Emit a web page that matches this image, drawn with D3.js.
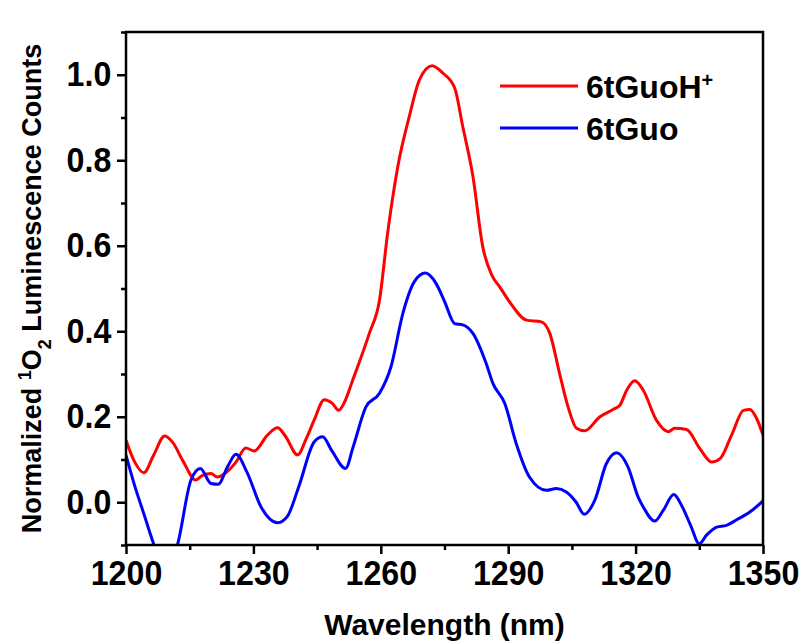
<!DOCTYPE html>
<html>
<head>
<meta charset="utf-8">
<script src="https://cdn.jsdelivr.net/npm/d3@7"></script>
<style>
  body { margin: 0; background: #fff; }
  text { font-family: "Liberation Sans", Arial, sans-serif; font-weight: bold; fill: #000; }
</style>
</head>
<body>
<div id="chart"></div>
<script>
// wavelengths (nm) and normalized counts
const redNm = [1200, 1202, 1204.2, 1206.5, 1209.1, 1211, 1213.5, 1216.4, 1218, 1220, 1221.5, 1223.5, 1225.9, 1228.2, 1230.2, 1233.3, 1235.7, 1237.5, 1240.4, 1242.5, 1244.3, 1246.7, 1248.5, 1250.1, 1251.5, 1253.4, 1257.3, 1259.7, 1261.6, 1264, 1266.7, 1269.1, 1272.1, 1274.6, 1277.4, 1279.3, 1281.7, 1284, 1286.2, 1288, 1290.3, 1294.3, 1297.8, 1299.8, 1302.1, 1304.1, 1306.1, 1308, 1311.6, 1314.7, 1316.3, 1317.9, 1319.8, 1321.8, 1324.9, 1327.7, 1329.2, 1332, 1335.1, 1337.9, 1339.9, 1342.6, 1345.4, 1346.9, 1348.5, 1350];
const redVal = [0.145, 0.095, 0.069, 0.11, 0.155, 0.14, 0.095, 0.052, 0.063, 0.067, 0.059, 0.069, 0.094, 0.127, 0.12, 0.157, 0.174, 0.155, 0.111, 0.15, 0.192, 0.24, 0.232, 0.215, 0.235, 0.286, 0.395, 0.473, 0.629, 0.785, 0.902, 0.988, 1.021, 1.004, 0.969, 0.879, 0.762, 0.598, 0.53, 0.504, 0.469, 0.426, 0.422, 0.395, 0.301, 0.223, 0.173, 0.167, 0.2, 0.217, 0.227, 0.262, 0.284, 0.262, 0.192, 0.165, 0.173, 0.17, 0.126, 0.094, 0.102, 0.157, 0.215, 0.217, 0.196, 0.157];

const blueNm = [1200, 1202, 1204.3, 1206.6, 1209.3, 1212.1, 1215.3, 1217.5, 1220, 1221.7, 1224, 1225.9, 1228.5, 1231.8, 1235.7, 1238, 1240.8, 1244.3, 1246.3, 1248.5, 1251.7, 1253.5, 1256.5, 1259.7, 1262.4, 1265.2, 1267.9, 1270.5, 1273, 1275, 1277.4, 1279.3, 1281.7, 1284.8, 1286.4, 1289.2, 1291.9, 1295, 1299, 1301.3, 1303.7, 1306, 1307.9, 1310.4, 1313.1, 1315.5, 1318.2, 1320.6, 1321.8, 1324.5, 1326.5, 1329, 1330.8, 1333, 1335, 1336.7, 1339.1, 1341.4, 1343.8, 1346.9, 1350];
const blueVal = [0.11, 0.04, -0.03, -0.1, -0.16, -0.1, 0.052, 0.079, 0.044, 0.042, 0.085, 0.112, 0.07, -0.011, -0.048, -0.033, 0.04, 0.141, 0.153, 0.12, 0.079, 0.13, 0.223, 0.255, 0.317, 0.442, 0.516, 0.536, 0.512, 0.47, 0.418, 0.415, 0.395, 0.325, 0.278, 0.231, 0.137, 0.059, 0.028, 0.032, 0.024, 0.0, -0.028, 0.005, 0.09, 0.116, 0.083, 0.012, -0.011, -0.044, -0.019, 0.018, -0.007, -0.055, -0.097, -0.077, -0.058, -0.054, -0.041, -0.023, 0.003];

const seriesNames = ["6tGuoH", "6tGuo"];
const seriesColors = ["#ff0000", "#0000ff"];
const xTicks = [1200, 1230, 1260, 1290, 1320, 1350];
const xMinor = [1215, 1245, 1275, 1305, 1335];
const yTicks = [0.0, 0.2, 0.4, 0.6, 0.8, 1.0];
const yMinor = [-0.1, 0.1, 0.3, 0.5, 0.7, 0.9, 1.1];

const width = 805, height = 644;
const margin = { top: 32, right: 42, bottom: 99, left: 126 };

const svg = d3.select('#chart').append('svg')
  .attr('width', width)
  .attr('height', height);

const x = d3.scaleLinear().domain([1200, 1350]).range([margin.left, width - margin.right]);
const y = d3.scaleLinear().domain([-0.1, 1.1]).range([height - margin.bottom, margin.top]);

svg.append('clipPath').attr('id', 'plot-clip')
  .append('rect')
  .attr('x', x(1200)).attr('y', y(1.1))
  .attr('width', x(1350) - x(1200)).attr('height', y(-0.1) - y(1.1));

const line = d3.line()
  .x(d => x(d[0]))
  .y(d => y(d[1]))
  .curve(d3.curveMonotoneX);

const series = [
  d3.zip(redNm, redVal),
  d3.zip(blueNm, blueVal)
];

svg.append('g').attr('clip-path', 'url(#plot-clip)')
  .selectAll('path')
  .data(series)
  .join('path')
  .attr('d', line)
  .attr('fill', 'none')
  .attr('stroke', (d, i) => seriesColors[i])
  .attr('stroke-width', 3)
  .attr('stroke-linejoin', 'round');

// frame
svg.append('rect')
  .attr('x', x(1200)).attr('y', y(1.1))
  .attr('width', x(1350) - x(1200)).attr('height', y(-0.1) - y(1.1))
  .attr('fill', 'none').attr('stroke', '#000').attr('stroke-width', 2.5);

// axes
const xAxis = svg.append('g').attr('transform', `translate(0,${y(-0.1)})`)
  .call(d3.axisBottom(x).tickValues(xTicks).tickSize(9).tickPadding(6).tickFormat(d3.format('d')));
svg.append('g').attr('transform', `translate(0,${y(-0.1)})`)
  .call(d3.axisBottom(x).tickValues(xMinor).tickSize(5).tickFormat(''));
const yAxis = svg.append('g').attr('transform', `translate(${x(1200)},0)`)
  .call(d3.axisLeft(y).tickValues(yTicks).tickSize(9).tickPadding(7).tickFormat(d3.format('.1f')));
svg.append('g').attr('transform', `translate(0,0)`)
svg.append('g').attr('transform', `translate(${x(1200)},0)`)
  .call(d3.axisLeft(y).tickValues(yMinor).tickSize(5).tickFormat(''));

svg.selectAll('.domain').remove();
svg.selectAll('.tick line').attr('stroke', '#000').attr('stroke-width', 2.5);
xAxis.selectAll('text').attr('font-size', 35).attr('font-family', null)
  .attr('transform', 'scale(0.92,1)');
yAxis.selectAll('text').attr('font-size', 35).attr('font-family', null)
  .attr('transform', 'scale(0.92,1)');

// axis titles
svg.append('text')
  .attr('x', (x(1200) + x(1350)) / 2)
  .attr('y', 635)
  .attr('text-anchor', 'middle')
  .attr('font-size', 30)
  .text('Wavelength (nm)');

const yt = svg.append('text')
  .attr('transform', `translate(41,${(y(-0.1) + y(1.1)) / 2}) rotate(-90)`)
  .attr('text-anchor', 'middle')
  .attr('font-size', 27);
yt.append('tspan').text('Normalized ');
yt.append('tspan').attr('baseline-shift', 'super').attr('font-size', 18).text('1');
yt.append('tspan').text('O');
yt.append('tspan').attr('baseline-shift', 'sub').attr('font-size', 18).text('2');
yt.append('tspan').text(' Luminescence Counts');

// legend
const legend = svg.append('g');
const legendY = [86, 128];
seriesNames.forEach((name, i) => {
  legend.append('line')
    .attr('x1', 500).attr('x2', 578)
    .attr('y1', legendY[i]).attr('y2', legendY[i])
    .attr('stroke', seriesColors[i]).attr('stroke-width', 3);
  const t = legend.append('text')
    .attr('x', 586).attr('y', legendY[i] + 12)
    .attr('font-size', 32)
    .text(name);
  if (i === 0) t.append('tspan').attr('baseline-shift', 'super').attr('font-size', 20).text('+');
});
</script>
</body>
</html>
